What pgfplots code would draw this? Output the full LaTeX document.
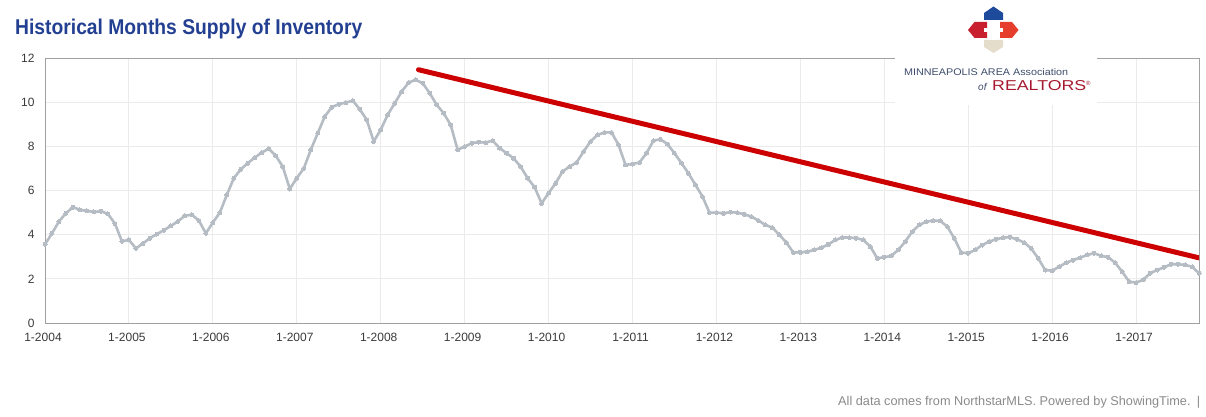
\documentclass[border=0pt]{standalone}
\usepackage{fontspec}
\setmainfont{Liberation Sans}
\usepackage{graphicx}
\usepackage{pgfplots}
\pgfplotsset{compat=1.18}
\definecolor{titleblue}{HTML}{233F91}
\definecolor{linegray}{HTML}{B5BCC4}
\definecolor{trendred}{HTML}{CC0000}
\definecolor{gridgray}{HTML}{EBEBEB}
\definecolor{axisgray}{HTML}{A0A0A0}
\definecolor{labelgray}{HTML}{3A3A3A}
\definecolor{footgray}{HTML}{8A8A8A}
\definecolor{logoblue}{HTML}{1E4A9C}
\definecolor{logored}{HTML}{C8202F}
\definecolor{logoorange}{HTML}{E63E2C}
\definecolor{logobeige}{HTML}{E5DDCB}
\definecolor{logotext}{HTML}{3E4C6C}
\definecolor{realtorred}{HTML}{A6192E}

% months supply, month index 0 = Jan 2004
\pgfplotstableread{
m v
0 3.56
1 4.06
2 4.60
3 4.97
4 5.25
5 5.12
6 5.08
7 5.03
8 5.06
9 4.94
10 4.50
11 3.70
12 3.76
13 3.38
14 3.60
15 3.84
16 4.03
17 4.20
18 4.40
19 4.60
20 4.86
21 4.90
22 4.64
23 4.06
24 4.55
25 5.00
26 5.80
27 6.56
28 6.96
29 7.24
30 7.49
31 7.72
32 7.89
33 7.57
34 7.08
35 6.07
36 6.56
37 7.00
38 7.84
39 8.60
40 9.35
41 9.77
42 9.91
43 9.98
44 10.07
45 9.68
46 9.20
47 8.22
48 8.75
49 9.43
50 9.95
51 10.48
52 10.89
53 11.01
54 10.86
55 10.41
56 9.88
57 9.50
58 8.97
59 7.84
60 7.99
61 8.14
62 8.19
63 8.17
64 8.26
65 7.92
66 7.69
67 7.46
68 7.08
69 6.56
70 6.15
71 5.42
72 5.88
73 6.33
74 6.86
75 7.08
76 7.27
77 7.76
78 8.22
79 8.52
80 8.63
81 8.63
82 8.07
83 7.16
84 7.20
85 7.27
86 7.69
87 8.26
88 8.32
89 8.10
90 7.69
91 7.24
92 6.78
93 6.25
94 5.73
95 5.00
96 5.00
97 4.97
98 5.02
99 5.00
100 4.92
101 4.82
102 4.64
103 4.44
104 4.32
105 3.99
106 3.64
107 3.19
108 3.20
109 3.23
110 3.31
111 3.41
112 3.56
113 3.76
114 3.87
115 3.87
116 3.84
117 3.76
118 3.46
119 2.93
120 2.98
121 3.04
122 3.31
123 3.69
124 4.14
125 4.44
126 4.59
127 4.64
128 4.62
129 4.37
130 3.84
131 3.19
132 3.16
133 3.31
134 3.53
135 3.69
136 3.79
137 3.87
138 3.88
139 3.79
140 3.64
141 3.38
142 2.93
143 2.40
144 2.37
145 2.55
146 2.73
147 2.85
148 2.96
149 3.08
150 3.16
151 3.04
152 2.98
153 2.73
154 2.33
155 1.87
156 1.83
157 1.95
158 2.25
159 2.40
160 2.52
161 2.66
162 2.66
163 2.63
164 2.55
165 2.25
}\supplydata

\begin{document}
\begin{tikzpicture}[x=1pt,y=1pt]
\path[use as bounding box] (0,0) rectangle (1206,416);

\begin{axis}[
    at={(45pt,93pt)}, anchor=south west,
    scale only axis,
    width=1154pt, height=265pt,
    xmin=0, xmax=165, ymin=0, ymax=12,
    xtick={0,12,...,156},
    xticklabels={1-2004,1-2005,1-2006,1-2007,1-2008,1-2009,1-2010,1-2011,1-2012,1-2013,1-2014,1-2015,1-2016,1-2017},
    ytick={0,2,...,12},
    grid=major,
    grid style={draw=gridgray, line width=0.9pt},
    axis line style={draw=axisgray, line width=1pt},
    major tick length=0pt,
    tick label style={font=\fontsize{12}{12}\selectfont, text=labelgray},
    /pgf/number format/assume math mode=true,
    xticklabel style={yshift=-7pt, xshift=-2pt},
    yticklabel style={xshift=-7pt},
]
\addplot[color=linegray, line width=2.6pt, mark=*, mark size=2pt,
    mark options={fill=linegray, draw=linegray, line width=0pt}] table[x=m, y=v] {\supplydata};
\addplot[color=trendred, line width=5pt, line cap=round] coordinates {(53.4,11.47) (165,2.95)};
\end{axis}

% logo area
\fill[white] (895,311) rectangle (1097,360);
\fill[logoblue] (984,396) -- (984,403) -- (993.5,409.5) -- (1003,403) -- (1003,396) -- cycle;
\fill[logored] (987,394) -- (974.5,394) -- (968,386) -- (974.5,378) -- (987,378) -- cycle;
\fill[logoorange] (1000,394) -- (1012,394) -- (1018.5,386) -- (1012,378) -- (1000,378) -- cycle;
\fill[logobeige] (984,376) -- (1003,376) -- (1003,369) -- (993.5,363) -- (984,369) -- cycle;
\fill[white] (991.5,376) rectangle (995.5,396);
\fill[white] (984,384) rectangle (1003,388);
\node[anchor=base west, inner sep=0pt, text=logotext] at (904,341)
    {\resizebox{164pt}{7pt}{MINNEAPOLIS AREA Association}};
\node[anchor=base west, inner sep=0pt, text=logotext] at (978,326)
    {\fontsize{10}{10}\selectfont\itshape of};
\node[anchor=base west, inner sep=0pt, text=realtorred] at (992,326)
    {\resizebox{94pt}{10pt}{REALTORS}\raisebox{5pt}{\fontsize{6}{6}\selectfont\textregistered}};

% title
\node[anchor=base west, inner sep=0pt, text=titleblue] at (15,381)
    {\resizebox{347pt}{15.5pt}{\bfseries Historical Months Supply of Inventory}};

% footer
\node[anchor=base west, inner sep=0pt, text=footgray] at (838,11)
    {\resizebox{362pt}{!}{All data comes from NorthstarMLS. Powered by ShowingTime.\enspace|}};
\end{tikzpicture}
\end{document}
